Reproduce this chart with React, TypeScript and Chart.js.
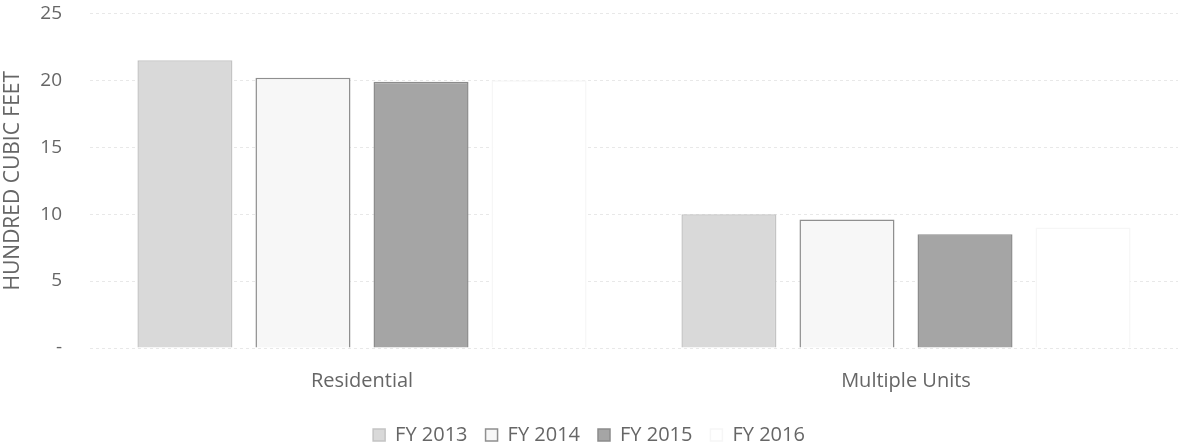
import React, { useEffect, useRef } from "react";
import { Chart, registerables } from "chart.js";

Chart.register(...registerables);

const categories = ["Residential", "Multiple Units"];
const seriesLabels = ["FY 2013", "FY 2014", "FY 2015", "FY 2016"];
const fy2013 = [21.5, 10.0];
const fy2014 = [20.2, 9.6];
const fy2015 = [19.9, 8.5];
const fy2016 = [20.0, 9.0];
const yTicks = [0, 5, 10, 15, 20, 25];

const fills = ["#d9d9d9", "#f7f7f7", "#a5a5a5", "#ffffff"];
const borders = ["#c4c4c4", "#8f8f8f", "#8c8c8c", "#f6f6f6"];

const FONT = "'Open Sans', 'Noto Sans', sans-serif";
const TEXT = "#666666";

const W = 1178;
const H = 481;
const SHIFT = 26;

export default function App() {
  const ref = useRef<HTMLCanvasElement | null>(null);

  useEffect(() => {
    if (!ref.current) return;
    const values = [fy2013, fy2014, fy2015, fy2016];
    const chart = new Chart(ref.current, {
      type: "bar",
      data: {
        labels: categories,
        datasets: seriesLabels.map((label, i) => ({
          label,
          data: values[i],
          backgroundColor: fills[i],
          borderColor: borders[i],
          borderWidth: 1.5,
          categoryPercentage: 0.868,
          barPercentage: 0.805,
        })),
      },
      options: {
        animation: false,
        responsive: false,
        maintainAspectRatio: false,
        layout: { padding: { top: 0, right: 0, bottom: 0, left: 0 } },
        plugins: {
          tooltip: { enabled: false },
          legend: {
            position: "bottom",
            labels: {
              color: TEXT,
              font: { family: FONT, size: 20 },
              boxWidth: 12,
              boxHeight: 12,
              padding: 18,
              useBorderRadius: false,
            },
          },
        },
        scales: {
          x: {
            grid: { display: false, drawTicks: false },
            border: { display: false },
            ticks: { color: TEXT, font: { family: FONT, size: 20 }, padding: 21 },
            afterFit: (s: any) => {
              s.height = 59;
            },
          },
          y: {
            min: 0,
            max: 25,
            afterBuildTicks: (s: any) => {
              s.ticks = yTicks.map((v) => ({ value: v }));
            },
            grid: {
              color: "#e8e8e8",
              lineWidth: 1,
              drawTicks: false,
            },
            border: { display: false, dash: [3, 3] },
            ticks: {
              color: TEXT,
              font: { family: FONT, size: 19 },
              padding: 28,
              callback: (v: any) => (Number(v) === 0 ? "-" : String(v)),
            },
            title: {
              display: true,
              text: "HUNDRED CUBIC FEET",
              color: TEXT,
              font: { family: FONT, size: 21 },
              padding: { top: 0, bottom: 4 },
            },
            afterFit: (s: any) => {
              s.width = 90;
            },
          },
        },
      },
    });
    return () => chart.destroy();
  }, []);

  return (
    <div style={{ position: "fixed", left: 0, top: 0, width: W, height: 443, overflow: "hidden", background: "#fff" }}>
      <canvas
        ref={ref}
        width={W}
        height={H}
        style={{ display: "block", position: "absolute", left: 0, top: -SHIFT }}
      />
    </div>
  );
}
